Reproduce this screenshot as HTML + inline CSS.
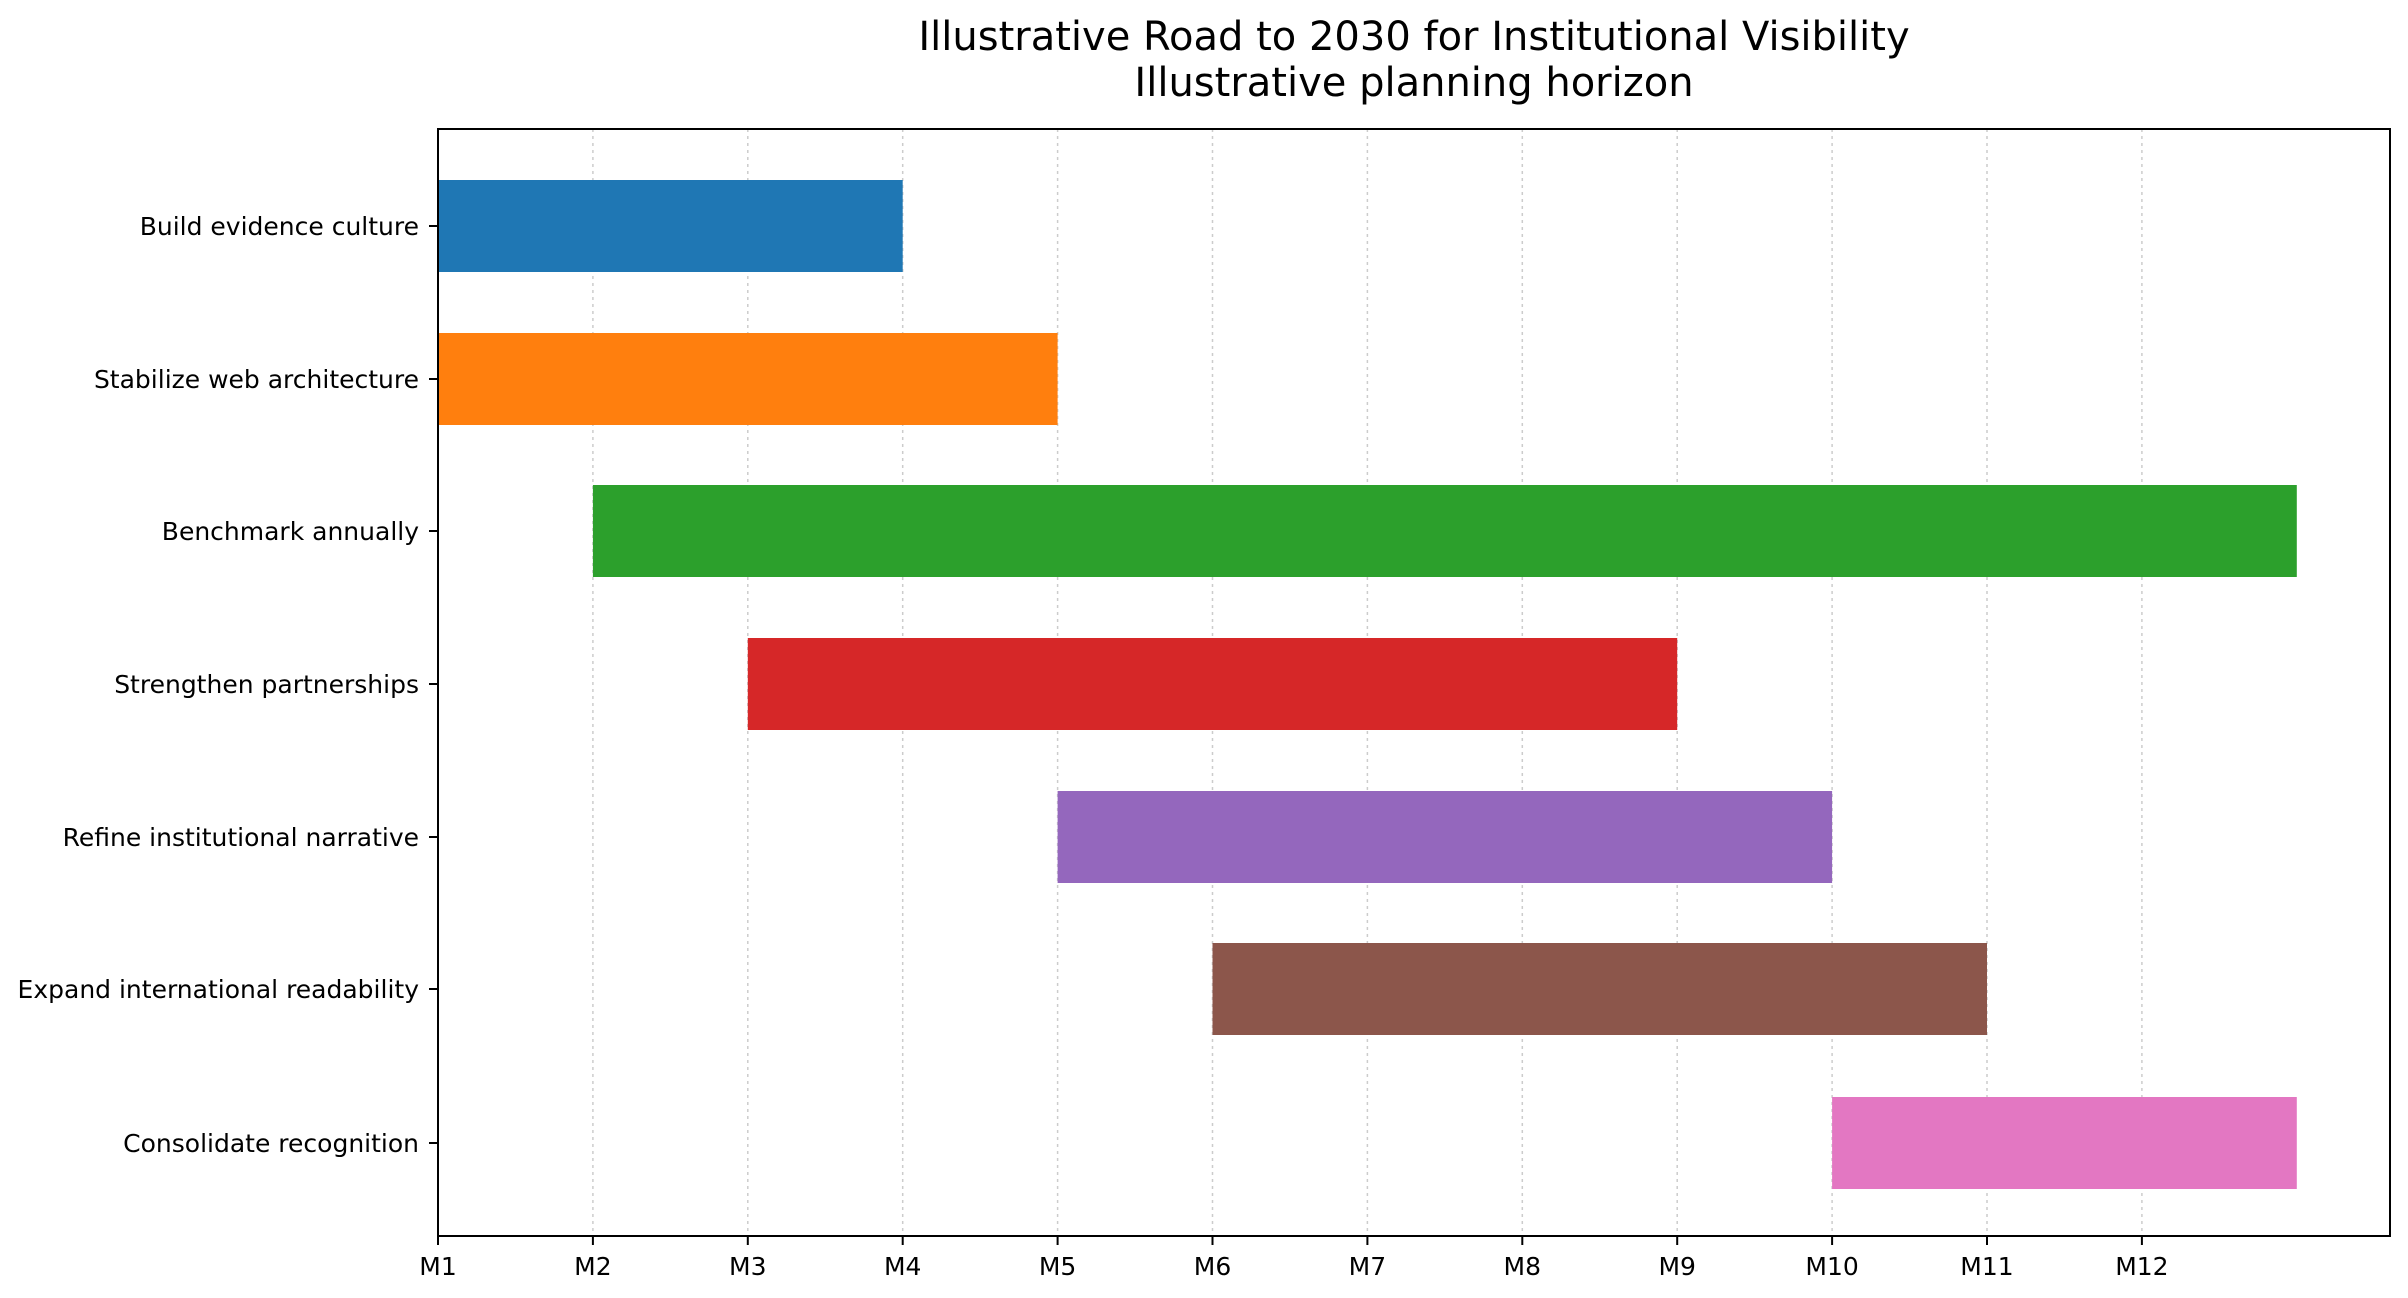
<!DOCTYPE html>
<html><head><meta charset="utf-8"><style>html,body{margin:0;padding:0;background:#fff}svg{display:block}</style></head>
<body>
<svg width="2408" height="1298" viewBox="0 0 2408 1298" xmlns="http://www.w3.org/2000/svg" font-family="'DejaVu Sans','Liberation Sans',sans-serif">
<rect width="2408" height="1298" fill="#fff"/>
<text x="1414" y="50" font-size="40" text-anchor="middle">Illustrative Road to 2030 for Institutional Visibility</text>
<text x="1414" y="96" font-size="40" text-anchor="middle">Illustrative planning horizon</text>
<g stroke="#cccccc" stroke-width="1.5" stroke-dasharray="3,4">
<line x1="592.9" y1="129" x2="592.9" y2="1236"/>
<line x1="747.8" y1="129" x2="747.8" y2="1236"/>
<line x1="902.7" y1="129" x2="902.7" y2="1236"/>
<line x1="1057.6" y1="129" x2="1057.6" y2="1236"/>
<line x1="1212.5" y1="129" x2="1212.5" y2="1236"/>
<line x1="1367.4" y1="129" x2="1367.4" y2="1236"/>
<line x1="1522.3" y1="129" x2="1522.3" y2="1236"/>
<line x1="1677.2" y1="129" x2="1677.2" y2="1236"/>
<line x1="1832.1" y1="129" x2="1832.1" y2="1236"/>
<line x1="1987" y1="129" x2="1987" y2="1236"/>
<line x1="2141.9" y1="129" x2="2141.9" y2="1236"/>
</g>
<rect x="438" y="180" width="464.7" height="92" fill="#1f77b4"/>
<rect x="438" y="333" width="619.6" height="92" fill="#ff7f0e"/>
<rect x="592.9" y="485" width="1703.9" height="92" fill="#2ca02c"/>
<rect x="747.8" y="638" width="929.4" height="92" fill="#d62728"/>
<rect x="1057.6" y="791" width="774.5" height="92" fill="#9467bd"/>
<rect x="1212.5" y="943" width="774.5" height="92" fill="#8c564b"/>
<rect x="1832.1" y="1097" width="464.7" height="92" fill="#e377c2"/>
<rect x="438" y="129" width="1952" height="1107" fill="none" stroke="#000" stroke-width="2"/>
<g stroke="#000" stroke-width="2">
<line x1="429" y1="226" x2="438" y2="226"/><line x1="429" y1="379" x2="438" y2="379"/>
<line x1="429" y1="531" x2="438" y2="531"/><line x1="429" y1="684" x2="438" y2="684"/>
<line x1="429" y1="837" x2="438" y2="837"/><line x1="429" y1="989" x2="438" y2="989"/>
<line x1="429" y1="1143" x2="438" y2="1143"/>
<line x1="438" y1="1236" x2="438" y2="1245"/><line x1="592.9" y1="1236" x2="592.9" y2="1245"/>
<line x1="747.8" y1="1236" x2="747.8" y2="1245"/><line x1="902.7" y1="1236" x2="902.7" y2="1245"/>
<line x1="1057.6" y1="1236" x2="1057.6" y2="1245"/><line x1="1212.5" y1="1236" x2="1212.5" y2="1245"/>
<line x1="1367.4" y1="1236" x2="1367.4" y2="1245"/><line x1="1522.3" y1="1236" x2="1522.3" y2="1245"/>
<line x1="1677.2" y1="1236" x2="1677.2" y2="1245"/><line x1="1832.1" y1="1236" x2="1832.1" y2="1245"/>
<line x1="1987" y1="1236" x2="1987" y2="1245"/><line x1="2141.9" y1="1236" x2="2141.9" y2="1245"/>
</g>
<g font-size="25" text-anchor="end">
<text x="419" y="235">Build evidence culture</text>
<text x="419" y="388">Stabilize web architecture</text>
<text x="419" y="540">Benchmark annually</text>
<text x="419" y="693">Strengthen partnerships</text>
<text x="419" y="846">Refine institutional narrative</text>
<text x="419" y="998">Expand international readability</text>
<text x="419" y="1152">Consolidate recognition</text>
</g>
<g font-size="25" text-anchor="middle">
<text x="438" y="1275">M1</text><text x="592.9" y="1275">M2</text><text x="747.8" y="1275">M3</text>
<text x="902.7" y="1275">M4</text><text x="1057.6" y="1275">M5</text><text x="1212.5" y="1275">M6</text>
<text x="1367.4" y="1275">M7</text><text x="1522.3" y="1275">M8</text><text x="1677.2" y="1275">M9</text>
<text x="1832.1" y="1275">M10</text><text x="1987" y="1275">M11</text><text x="2141.9" y="1275">M12</text>
</g>
</svg>
</body></html>
